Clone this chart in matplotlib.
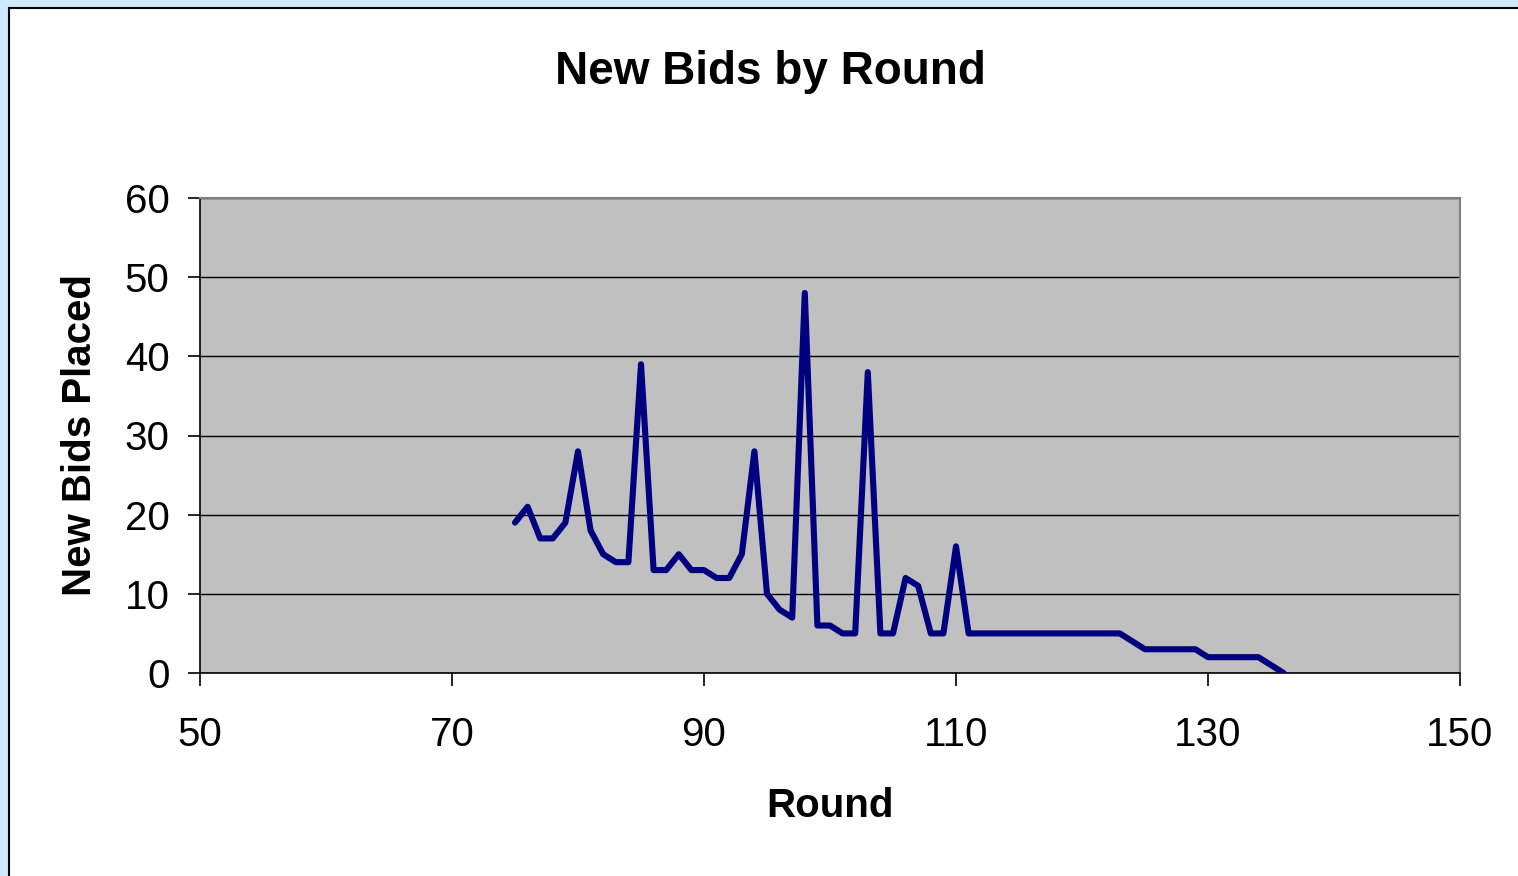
import matplotlib
matplotlib.use("Agg")
import matplotlib.pyplot as plt
from matplotlib.patches import Rectangle

# rounds and number of new bids
rounds = list(range(75, 137))
new_bids = [19, 21, 17, 17, 19, 28, 18, 15, 14, 14,
            39, 13, 13, 15, 13, 13, 12, 12, 15, 28,
            10, 8, 7, 48, 6, 6, 5, 5, 38, 5,
            5, 12, 11, 5, 5, 16, 5, 5, 5, 5,
            5, 5, 5, 5, 5, 5, 5, 5, 5, 4,
            3, 3, 3, 3, 3, 2, 2, 2, 2, 2,
            1, 0]

x_ticks = [50, 70, 90, 110, 130, 150]
y_ticks = [0, 10, 20, 30, 40, 50, 60]

plt.rcParams['font.family'] = ['Liberation Sans', 'DejaVu Sans']

fig = plt.figure(figsize=(15.18, 8.76), dpi=100)
fig.patch.set_facecolor('#cdeafc')
# white chart panel with black border
fig.add_artist(Rectangle((9 / 1518, -0.05), 1.1, 1 - 8 / 876 + 0.05,
                         transform=fig.transFigure, facecolor='white',
                         edgecolor='black', linewidth=1.5, zorder=-5))

ax = fig.add_axes([200 / 1518, 1 - 673 / 876, 1260 / 1518, 475 / 876])
ax.set_facecolor('#c0c0c0')
ax.plot(rounds, new_bids, color='#000080', linewidth=4.4, zorder=3,
        solid_capstyle='round')

ax.set_xlim(50, 150)
ax.set_ylim(0, 60)
ax.set_xticks(x_ticks)
ax.set_yticks(y_ticks)
ax.yaxis.grid(True, color='black', linewidth=1)
ax.set_axisbelow(True)

for s in ['top', 'right']:
    ax.spines[s].set_color('#808080')
    ax.spines[s].set_linewidth(1.5)
for s in ['left', 'bottom']:
    ax.spines[s].set_color('black')
    ax.spines[s].set_linewidth(1.2)

ax.tick_params(axis='both', direction='out', length=9, width=1.2,
               labelsize=29)
ax.tick_params(axis='x', pad=22)
ax.tick_params(axis='y', pad=13)

ax.set_xlabel('Round', fontsize=29, fontweight='bold', labelpad=24)
ax.set_ylabel('New Bids Placed', fontsize=29, fontweight='bold', labelpad=18)
fig.text(770 / 1518, 1 - 72 / 876, 'New Bids by Round', ha='center',
         va='center', fontsize=33, fontweight='bold')

fig.savefig('out.png', dpi=100, facecolor=fig.get_facecolor())
